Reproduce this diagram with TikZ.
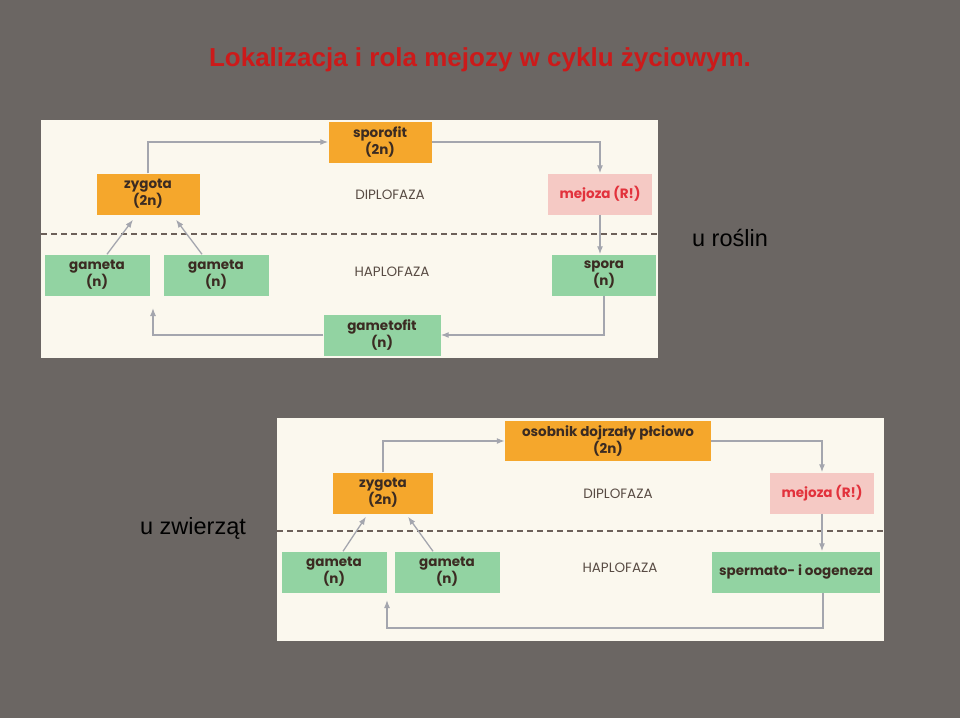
\documentclass[tikz,border=0pt]{standalone}
\usepackage{fontspec}
\setmainfont{Liberation Sans}
\newfontfamily\boxfont{Poppins}
\usetikzlibrary{positioning,arrows.meta,calc}
\definecolor{slide}{HTML}{6B6663}
\definecolor{panel}{HTML}{FBF8EE}
\definecolor{diplo}{HTML}{F5A72C}
\definecolor{haplo}{HTML}{92D3A2}
\definecolor{meio}{HTML}{F5C9C4}
\definecolor{ink}{HTML}{3B2B22}
\definecolor{meiored}{HTML}{E2323C}
\definecolor{flow}{HTML}{A4A6AE}
\definecolor{titlered}{HTML}{CC1A1A}
\tikzset{
  box/.style={align=center,inner sep=2pt,minimum height=41pt,font=\boxfont\bfseries\fontsize{13.5}{17}\selectfont,text=ink},
  two/.style={box,fill=diplo},
  one/.style={box,fill=haplo},
  mei/.style={box,fill=meio,text=meiored},
  phase/.style={font=\boxfont\fontsize{13.5}{17}\selectfont,text=ink!85},
  arr/.style={-{Latex[length=8pt,width=6pt]},flow,line width=1.3pt},
  split/.style={dash pattern=on 6pt off 4pt,ink!75,line width=1.1pt},
  caption/.style={font=\fontsize{23.5}{27}\selectfont,text=black}
}
\begin{document}
\begin{tikzpicture}[x=1pt,y=-1pt]
\fill[slide] (0,0) rectangle (960,718);
\useasboundingbox (0,0) rectangle (960,718);
\node[font=\bfseries\fontsize{26}{30}\selectfont,text=titlered] (title) at (480,60) {Lokalizacja i rola mejozy w cyklu życiowym.};

% rosliny
\fill[panel] (41,120) rectangle (658,358);
\draw[split] (41,234) -- (658,234);
\node[two,minimum width=103pt] (spor) at (380,142) {sporofit\\(2n)};
\node[two,minimum width=103pt] (zyg1) at (148,194) {zygota\\(2n)};
\node[mei,minimum width=104pt] (mei1) at (600,194) {mejoza (R!)};
\node[one,minimum width=105pt] (gam1) at (97,275) {gameta\\(n)};
\node[one,minimum width=105pt] (gam2) at (216,275) {gameta\\(n)};
\node[one,minimum width=104pt] (spo1) at (604,275) {spora\\(n)};
\node[one,minimum width=117pt] (gfit) at (382,335) {gametofit\\(n)};
\node[phase] (dip1) at (390,195) {DIPLOFAZA};
\node[phase] (hap1) at (392,272) {HAPLOFAZA};
\coordinate (back1) at (153,308);

\draw[arr] (zyg1.north) |- (spor.west);
\draw[arr] (spor.east) -| (mei1.north);
\draw[arr] (mei1.south) -- (mei1.south |- spo1.north);
\draw[arr] (spo1.south) |- (gfit.east);
\draw[arr] (gfit.west) -| (back1);
\draw[arr] ($(gam1.north)+(10,0)$) -- ($(zyg1.south)+(-15,5)$);
\draw[arr] ($(gam2.north)+(-14,0)$) -- ($(zyg1.south)+(28,5)$);

\node[caption] (plants) at (730,238) {u roślin};

% zwierzeta
\fill[panel] (277,418) rectangle (884,641);
\draw[split] (277,531) -- (884,531);
\node[two,minimum width=206pt,minimum height=40pt] (adult) at (608,441) {osobnik dojrzały płciowo\\(2n)};
\node[two,minimum width=100pt] (zyg2) at (383,493) {zygota\\(2n)};
\node[mei,minimum width=104pt] (mei2) at (822,493) {mejoza (R!)};
\node[one,minimum width=105pt] (gam3) at (334,572) {gameta\\(n)};
\node[one,minimum width=105pt] (gam4) at (447,572) {gameta\\(n)};
\node[one,minimum width=168pt] (sperm) at (796,572) {spermato- i oogeneza};
\node[phase] (dip2) at (618,494) {DIPLOFAZA};
\node[phase] (hap2) at (620,568) {HAPLOFAZA};
\coordinate (back2) at (387,600);
\coordinate (turn2) at (823,628);

\draw[arr] (zyg2.north) |- (adult.west);
\draw[arr] (adult.east) -| (mei2.north);
\draw[arr] (mei2.south) -- (mei2.south |- sperm.north);
\draw[arr] (sperm.south -| turn2) -- (turn2) -| (back2);
\draw[arr] ($(gam3.north)+(9,0)$) -- ($(zyg2.south)+(-17,3)$);
\draw[arr] ($(gam4.north)+(-14,0)$) -- ($(zyg2.south)+(25,3)$);

\node[caption] (animals) at (193,528) {u zwierząt};
\end{tikzpicture}
\end{document}
